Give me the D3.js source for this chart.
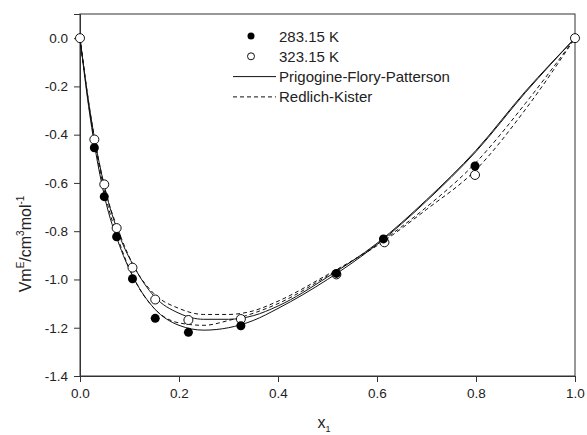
<!DOCTYPE html>
<html>
<head>
<meta charset="utf-8">
<script src="https://cdn.jsdelivr.net/npm/d3@7"></script>
<style>
  body { margin: 0; background: #fff; }
  svg text { font-family: "Liberation Sans", Arial, sans-serif; fill: #222; }
</style>
</head>
<body>
<script>
// measured points (x1, VmE)
var x283 = [0.029, 0.049, 0.074, 0.106, 0.152, 0.219, 0.325, 0.518, 0.613, 0.798]
var y283 = [-0.454, -0.657, -0.823, -0.997, -1.161, -1.219, -1.192, -0.975, -0.832, -0.530]
var x323 = [0, 0.029, 0.049, 0.074, 0.106, 0.152, 0.219, 0.325, 0.518, 0.615, 0.798, 1.0]
var y323 = [0, -0.420, -0.606, -0.787, -0.951, -1.083, -1.168, -1.164, -0.979, -0.846, -0.567, 0]

// fitted curves
var xc = [0, 0.02, 0.05, 0.08, 0.11, 0.15, 0.2, 0.25, 0.3, 0.35, 0.4, 0.5, 0.6, 0.7, 0.8, 0.9, 1.0]
var pfp283 = [0, -0.32, -0.66, -0.86, -1.0, -1.12, -1.19, -1.21, -1.20, -1.17, -1.12, -1.0, -0.855, -0.675, -0.47, -0.225, 0]
var pfp323 = [0, -0.30, -0.62, -0.82, -0.95, -1.07, -1.14, -1.165, -1.165, -1.15, -1.11, -0.99, -0.85, -0.67, -0.465, -0.22, 0]
var rk283 = [0, -0.31, -0.64, -0.85, -1.0, -1.12, -1.18, -1.19, -1.17, -1.14, -1.10, -0.985, -0.855, -0.70, -0.515, -0.27, 0]
var rk323 = [0, -0.30, -0.62, -0.81, -0.95, -1.06, -1.12, -1.145, -1.145, -1.13, -1.09, -0.98, -0.86, -0.71, -0.545, -0.295, 0]

var xTicks = [0, 0.2, 0.4, 0.6, 0.8, 1.0]
var yTicks = [0, -0.2, -0.4, -0.6, -0.8, -1.0, -1.2, -1.4]
var legendLabels = ['283.15 K', '323.15 K', 'Prigogine-Flory-Patterson', 'Redlich-Kister']

var W = 587, H = 435
var m = {left: 80, right: 12, top: 14, bottom: 59}

var svg = d3.select('body').append('svg')
  .attr('width', W).attr('height', H)

var x = d3.scaleLinear().domain([0, 1]).range([m.left, W - m.right])
var y = d3.scaleLinear().domain([-1.4, 0.1]).range([H - m.bottom, m.top])
var fmt = function(d){ return d.toFixed(1) }

// frame
svg.append('rect')
  .attr('x', x(0)).attr('y', y(0.1))
  .attr('width', x(1) - x(0)).attr('height', y(-1.4) - y(0.1))
  .attr('fill', 'none').attr('stroke', '#333').attr('stroke-width', 1)

// axes with minor ticks
var gx = svg.append('g').attr('transform', 'translate(0,' + y(-1.4) + ')')
gx.call(d3.axisBottom(x).tickValues(d3.range(0.1, 1, 0.2)).tickSize(4).tickFormat(''))
gx.call(d3.axisBottom(x).tickValues(xTicks).tickSize(6).tickPadding(6).tickFormat(fmt))
var gy = svg.append('g').attr('transform', 'translate(' + x(0) + ',0)')
gy.call(d3.axisLeft(y).tickValues(d3.range(-1.3, 0.1, 0.2)).tickSize(4).tickFormat(''))
gy.call(d3.axisLeft(y).tickValues(yTicks).tickSize(6).tickPadding(6).tickFormat(fmt))
svg.selectAll('.domain').attr('stroke', '#333')
svg.selectAll('.tick line').attr('stroke', '#333')
svg.selectAll('.tick text').attr('font-size', 13.5).attr('font-family', '"Liberation Sans", Arial, sans-serif').attr('fill', '#222')

// curves
var line = d3.line().x(function(d){ return x(d[0]) }).y(function(d){ return y(d[1]) }).curve(d3.curveMonotoneX)
function curve(ys, dash){
  svg.append('path')
    .datum(xc.map(function(v, i){ return [v, ys[i]] }))
    .attr('d', line)
    .attr('fill', 'none').attr('stroke', '#111').attr('stroke-width', 1)
    .attr('stroke-dasharray', dash)
}
curve(pfp283, null)
curve(pfp323, null)
curve(rk283, '4,3')
curve(rk323, '4,3')

// points
svg.selectAll('.p323').data(x323).enter().append('circle')
  .attr('cx', function(d){ return x(d) }).attr('cy', function(d, i){ return y(y323[i]) })
  .attr('r', 4.5).attr('fill', '#fff').attr('stroke', '#111').attr('stroke-width', 1)
svg.selectAll('.p283').data(x283).enter().append('circle')
  .attr('cx', function(d){ return x(d) }).attr('cy', function(d, i){ return y(y283[i]) })
  .attr('r', 4.5).attr('fill', '#000')

// legend
var lg = svg.append('g')
legendLabels.forEach(function(t, i){
  var ly = 36 + i * 20.3
  if(i === 0) lg.append('circle').attr('cx', 251).attr('cy', ly).attr('r', 3.5).attr('fill', '#000')
  if(i === 1) lg.append('circle').attr('cx', 251).attr('cy', ly).attr('r', 3.5).attr('fill', '#fff').attr('stroke', '#111')
  if(i === 2) lg.append('line').attr('x1', 233).attr('x2', 276).attr('y1', ly).attr('y2', ly).attr('stroke', '#111')
  if(i === 3) lg.append('line').attr('x1', 233).attr('x2', 276).attr('y1', ly).attr('y2', ly).attr('stroke', '#111').attr('stroke-dasharray', '4,3')
  lg.append('text').attr('x', 279).attr('y', ly + 5.5).attr('font-size', 15).text(t)
})

// axis titles
var yt = svg.append('text')
  .attr('transform', 'translate(31,' + 244 + ') rotate(-90)')
  .attr('text-anchor', 'middle').attr('font-size', 16)
yt.append('tspan').text('Vm')
yt.append('tspan').attr('font-size', 10).attr('dy', -7).text('E')
yt.append('tspan').attr('dy', 7).text('/cm')
yt.append('tspan').attr('font-size', 10).attr('dy', -7).text('3')
yt.append('tspan').attr('dy', 7).text('mol')
yt.append('tspan').attr('font-size', 10).attr('dy', -7).text('-1')

var xt = svg.append('text')
  .attr('x', 324).attr('y', 428).attr('text-anchor', 'middle').attr('font-size', 16)
xt.append('tspan').text('x')
xt.append('tspan').attr('font-size', 9).attr('dy', 4).text('1')
</script>
</body>
</html>
